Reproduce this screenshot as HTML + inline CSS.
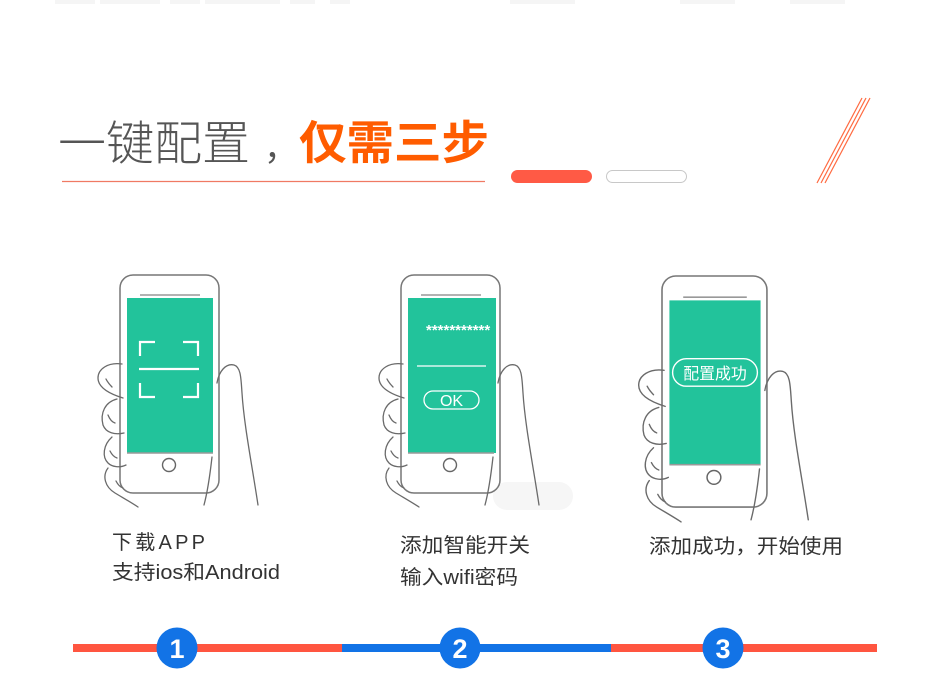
<!DOCTYPE html>
<html><head><meta charset="utf-8"><style>
html,body{margin:0;padding:0;background:#fff;}
svg{display:block;}
text{font-family:"Liberation Sans","Noto Sans CJK SC",sans-serif;}
</style></head><body>
<svg width="931" height="693" viewBox="0 0 931 693" xmlns="http://www.w3.org/2000/svg">
<defs>
<clipPath id="scr2"><rect x="7" y="23" width="88" height="155"/></clipPath>
<g id="hand" fill="none" stroke="#6a6a6a" stroke-width="1.3" stroke-linecap="round">
  <path d="M2,89 C-12,87 -22,94 -22,103 C-22,113 -10,119 3,123"/>
  <path d="M-3,124 C-15,127 -20,138 -17,150 C-14,158 -5,160 4,158"/>
  <path d="M-8,162 C-17,170 -18,182 -12,188 C-8,192 0,193 6,190"/>
  <path d="M-12,193 C-18,201 -15,212 -5,218 C5,224 12,228 18,232"/>
  <path d="M-14,104 C-12,108 -10,110 -8,112"/>
  <path d="M-12,140 C-10,145 -8,147 -5,148"/>
  <path d="M-10,176 C-8,180 -6,182 -3,183"/>
  <path d="M-4,206 C-2,210 0,212 3,213"/>
  <path d="M97,108 C99,96 106,88 114,90 C121,92 121,104 122,118 C124,150 132,190 138,230"/>
  <path d="M92,182 C90,200 88,215 84,230"/>
</g>
<g id="phone">
  <rect x="0" y="0" width="99" height="218" rx="13" fill="#fff" stroke="#777" stroke-width="1.5"/>
  <line x1="20" y1="20" x2="80" y2="20" stroke="#999" stroke-width="1.5"/>
  <rect x="7" y="23" width="86" height="155" fill="#22c39b"/>
  <line x1="7" y1="178" x2="93" y2="178" stroke="#999" stroke-width="1.5"/>
  <circle cx="49" cy="190" r="6.5" fill="none" stroke="#666" stroke-width="1.4"/>
</g>
</defs>

<!-- faint top text -->
<g fill="#f5f5f5">
  <rect x="55" y="0" width="40" height="4"/><rect x="100" y="0" width="60" height="4"/><rect x="170" y="0" width="30" height="4"/>
  <rect x="205" y="0" width="75" height="4"/><rect x="290" y="0" width="25" height="4"/><rect x="330" y="0" width="20" height="4"/>
  <rect x="510" y="0" width="65" height="4"/><rect x="680" y="0" width="55" height="4"/><rect x="790" y="0" width="55" height="4"/>
</g>

<!-- title -->
<text x="58" y="160" font-size="47" fill="#555" style="font-weight:300" textLength="192" lengthAdjust="spacingAndGlyphs">一键配置</text>
<text x="264" y="160" font-size="34" fill="#555">，</text>
<text x="299" y="159" font-size="46" fill="#ff5c00" font-weight="bold" textLength="190" lengthAdjust="spacingAndGlyphs">仅需三步</text>
<line x1="62" y1="181.5" x2="485" y2="181.5" stroke="#f07a63" stroke-width="1.2"/>
<rect x="511" y="170" width="81" height="13" rx="6.5" fill="#ff5a45"/>
<rect x="606.5" y="170.5" width="80" height="12" rx="6" fill="#fff" stroke="#c8c8c8" stroke-width="1"/>
<g stroke="#ff6a40" stroke-width="1.2">
  <line x1="817" y1="183" x2="862" y2="98"/>
  <line x1="821" y1="183" x2="866" y2="98"/>
  <line x1="825" y1="183" x2="870" y2="98"/>
</g>

<!-- phone 1 -->
<g transform="translate(120,275)">
  <use href="#phone"/>
  <use href="#hand"/>
  <g stroke="#fff" stroke-width="2.2" fill="none">
    <path d="M20,81 V67 H35"/><path d="M63,67 H78 V81"/>
    <line x1="19" y1="94" x2="79" y2="94"/>
    <path d="M20,108 V122 H35"/><path d="M63,122 H78 V108"/>
  </g>
</g>

<!-- phone 2 -->
<rect x="493" y="482" width="80" height="28" rx="14" fill="#f6f6f6"/>
<g transform="translate(401,275)">
  <use href="#phone"/>
  <use href="#hand"/>
  <rect x="93" y="23" width="2" height="155" fill="#22c39b"/>
  <text x="25" y="60" font-size="15" fill="#fff" font-weight="bold" clip-path="url(#scr2)">***********</text>
  <line x1="16" y1="91" x2="85" y2="91" stroke="#fff" stroke-width="1.3"/>
  <rect x="23" y="116" width="55" height="18" rx="9" fill="none" stroke="#fff" stroke-width="1.3"/>
  <text x="50.5" y="131" font-size="16" fill="#fff" text-anchor="middle">OK</text>
</g>

<!-- phone 3 -->
<g transform="translate(662,276) scale(1.06)">
  <use href="#phone"/>
  <use href="#hand"/>
  <rect x="10" y="78" width="80" height="26" rx="13" fill="none" stroke="#fff" stroke-width="1.3"/>
  <text x="50" y="97" font-size="15" fill="#fff" text-anchor="middle">配置成功</text>
</g>

<!-- labels -->
<g font-size="20" fill="#333">
  <text x="112" y="549" textLength="93" lengthAdjust="spacing">下载APP</text>
  <text x="112" y="579" textLength="168" lengthAdjust="spacingAndGlyphs">支持ios和Android</text>
  <text x="400" y="552" textLength="130" lengthAdjust="spacingAndGlyphs">添加智能开关</text>
  <text x="400" y="584" textLength="118" lengthAdjust="spacingAndGlyphs">输入wifi密码</text>
  <text x="649" y="553" textLength="194" lengthAdjust="spacingAndGlyphs">添加成功，开始使用</text>
</g>

<!-- timeline -->
<rect x="73" y="644" width="269" height="8" fill="#ff5540"/>
<rect x="342" y="644" width="269" height="8" fill="#1273e6"/>
<rect x="611" y="644" width="266" height="8" fill="#ff5540"/>
<g fill="#1273e6">
  <circle cx="177" cy="648" r="20.5"/>
  <circle cx="460" cy="648" r="20.5"/>
  <circle cx="723" cy="648" r="20.5"/>
</g>
<g font-size="27" font-weight="bold" fill="#fff" text-anchor="middle">
  <text x="177" y="658">1</text>
  <text x="460" y="658">2</text>
  <text x="723" y="658">3</text>
</g>
</svg>
</body></html>
